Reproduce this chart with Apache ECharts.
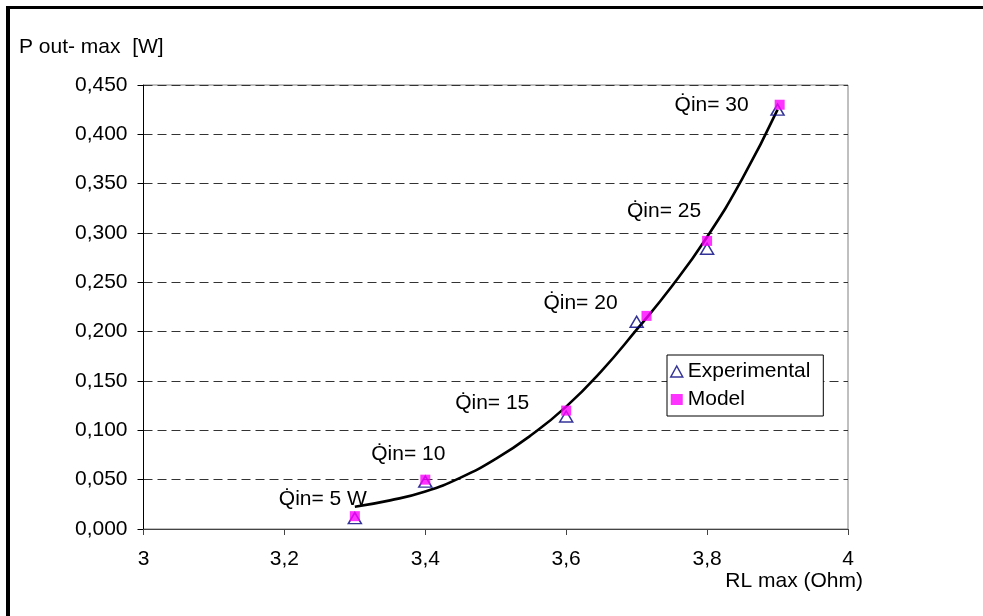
<!DOCTYPE html>
<html>
<head>
<meta charset="utf-8">
<script src="https://cdn.jsdelivr.net/npm/echarts@6/dist/echarts.min.js"></script>
<style>
html,body{margin:0;padding:0;background:#fff;}
#chart{width:983px;height:616px;}
</style>
</head>
<body>
<div id="chart"></div>
<script>
// ---- data ----
const expX = [3.3, 3.4, 3.6, 3.7, 3.8, 3.9];
const expY = [0.011, 0.048, 0.114, 0.210, 0.284, 0.425];
const modelX = [3.3, 3.4, 3.6, 3.714, 3.8, 3.903];
const modelY = [0.013, 0.050, 0.120, 0.216, 0.292, 0.430];
const pointLabels = ['Q\u0307in= 5 W', 'Q\u0307in= 10', 'Q\u0307in= 15', 'Q\u0307in= 20', 'Q\u0307in= 25', 'Q\u0307in= 30'];
// trend line
const trendX = [3.3, 3.35, 3.4, 3.45, 3.5, 3.55, 3.6, 3.65, 3.7, 3.75, 3.8, 3.85, 3.9];
const trendY = [0.0226, 0.029, 0.038, 0.052, 0.071, 0.095, 0.124, 0.160, 0.202, 0.246, 0.296, 0.355, 0.425];
const seriesNames = ['Experimental', 'Model'];
const yAxisTitle = 'P out- max  [W]';
const xAxisTitle = 'RL max (Ohm)';

// label layout (style only)
const labelOffsets = [[-32, -17], [-17, -25], [-74, -7], [-66, -13], [-43, -30], [-68, 0]];

const FONT = 'Liberation Sans, Arial, sans-serif';
const FS = 21;

const chart = echarts.init(document.getElementById('chart'), null, {renderer: 'canvas'});

const modelData = modelX.map((x, i) => ({
  value: [x, modelY[i]],
  label: {
    show: true,
    formatter: pointLabels[i],
    position: 'inside',
    offset: labelOffsets[i],
    align: 'center',
    verticalAlign: 'middle',
    color: '#000',
    opacity: 1,
    textBorderWidth: 0,
    fontFamily: FONT,
    fontSize: FS
  }
}));

chart.setOption({
  animation: false,
  backgroundColor: '#fff',
  grid: {
    left: 143.5, right: 135, top: 85, bottom: 87,
    show: true, borderColor: '#808080', borderWidth: 1, backgroundColor: '#fff'
  },
  xAxis: {
    type: 'value', min: 3, max: 4, interval: 0.2,
    axisLine: {show: true, onZero: false, lineStyle: {color: '#444', width: 1}},
    axisTick: {show: true, inside: false, length: 6, lineStyle: {color: '#444'}},
    splitLine: {show: false},
    axisLabel: {
      margin: 20, color: '#000', fontFamily: FONT, fontSize: FS,
      formatter: v => String(+v.toFixed(1)).replace('.', ',')
    }
  },
  yAxis: {
    type: 'value', min: 0, max: 0.45, interval: 0.05,
    axisLine: {show: true, onZero: false, lineStyle: {color: '#000', width: 1}},
    axisTick: {show: true, inside: false, length: 6, lineStyle: {color: '#000'}},
    splitLine: {show: true, lineStyle: {color: '#333', width: 1, type: [9, 5]}},
    axisLabel: {
      margin: 16, color: '#000', fontFamily: FONT, fontSize: FS,
      formatter: v => v.toFixed(3).replace('.', ',')
    }
  },
  legend: {
    orient: 'vertical',
    left: 667, top: 355,
    backgroundColor: '#fff',
    borderColor: '#000', borderWidth: 1, borderRadius: 0,
    padding: [6, 13, 6, 3],
    itemGap: 7, itemWidth: 12, itemHeight: 11,
    textStyle: {color: '#000', fontFamily: FONT, fontSize: FS},
    data: [
      {name: seriesNames[0], icon: 'triangle', itemStyle: {color: 'rgba(0,0,0,0)', borderColor: '#000080', borderWidth: 1.5}},
      {name: seriesNames[1], icon: 'rect', itemStyle: {color: '#ff00ff', borderWidth: 0}}
    ]
  },
  graphic: [
    {type: 'rect', shape: {x: 6, y: 6, width: 983, height: 3}, style: {fill: '#000'}, z: 100},
    {type: 'rect', shape: {x: 6, y: 6, width: 4, height: 616}, style: {fill: '#000'}, z: 100},
    {type: 'text', left: 19, top: 37, style: {text: yAxisTitle, fill: '#000', font: FS + 'px ' + FONT}},
    {type: 'text', right: 983 - 863, top: 571, style: {text: xAxisTitle, fill: '#000', font: FS + 'px ' + FONT}}
  ],
  series: [
    {
      name: 'Trend', type: 'line', smooth: true,
      data: trendX.map((x, i) => [x, trendY[i]]),
      showSymbol: false, symbol: 'none',
      lineStyle: {color: '#000', width: 2.6},
      z: 2, silent: true
    },
    {
      name: seriesNames[0], type: 'scatter',
      data: expX.map((x, i) => [x, expY[i]]),
      symbol: 'triangle', symbolSize: [13, 11],
      itemStyle: {color: 'rgba(0,0,0,0)', borderColor: '#000080', borderWidth: 1.5},
      z: 3
    },
    {
      name: seriesNames[1], type: 'scatter',
      data: modelData,
      symbol: 'rect', symbolSize: 10,
      itemStyle: {color: '#ff00ff'},
      z: 4
    }
  ]
});
</script>
</body>
</html>
